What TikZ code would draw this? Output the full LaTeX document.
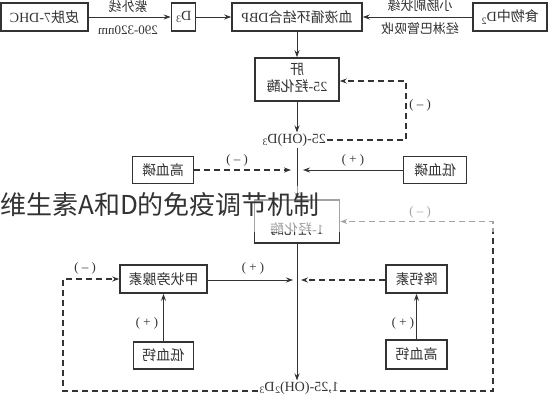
\documentclass[tikz,border=0pt]{standalone}
\usepackage{fontspec}
\usepackage{graphicx}
\setmainfont{Liberation Serif}
\newfontfamily\zh{Noto Sans CJK SC}
\usetikzlibrary{arrows.meta}
\definecolor{ink}{HTML}{333333}
\newcommand{\mr}[1]{\reflectbox{#1}}
\begin{document}
\begin{tikzpicture}[x=1pt,y=-1pt,
  box/.style={draw=ink, line width=1.6pt, minimum width=#1pt, minimum height=28pt, inner sep=0pt, text=ink, font=\fontsize{14}{16}\selectfont},
  box/.default=60,
  conn/.style={draw=ink, line width=1pt, -{Stealth[length=7pt,width=5pt]}},
  dsh/.style={draw=ink, line width=1.1pt, dash pattern=on 6pt off 4pt},
  lab/.style={font=\fontsize{13}{15}\selectfont, text=ink, inner sep=0pt},
  txt/.style={font=\fontsize{14}{16}\selectfont, text=ink, inner sep=1pt}]
\useasboundingbox (0,0) rectangle (550,400);
\fill[white] (0,0) rectangle (550,400);
% top row
\node[box=87] (skin) at (44.5,17) {\mr{{\zh 皮肤}7-DHC}};
\node[box=24] (d3) at (183.5,17) {\mr{D\textsubscript{3}}};
\node[box=130] (dbp) at (297,17) {\mr{{\zh 血液循环结合}DBP}};
\node[box=74] (food) at (510,17) {\mr{{\zh 食物中}D\textsubscript{2}}};
\draw[conn] (skin) -- (d3);
\node[lab] (uv) at (128,7) {\mr{\zh 紫外线}};
\node[lab] (nm) at (128,30) {\mr{290-320nm}};
\draw[conn] (d3) -- (dbp);
\draw[conn] (food) -- (dbp);
\node[lab] (gut) at (420,6) {\mr{\zh 小肠刷状缘}};
\node[lab] (lym) at (420,29) {\mr{\zh 经淋巴管吸收}};
% liver
\node[box=84, minimum height=43pt] (liver) at (297,79.5) {\mr{\begin{tabular}{@{}c@{}}{\zh 肝}\\[0pt]25-{\zh 羟化酶}\end{tabular}}};
\draw[conn] (dbp.south) -- (liver.north);
\node[txt] (oh25) at (294,140) {\mr{25-(OH)D\textsubscript{3}}};
\draw[conn] (liver.south) -- (liver.south |- oh25.north);
\coordinate (c1) at (406,81);
\draw[dsh,-{Stealth[length=7pt,width=5pt]}] (oh25.east) -| (c1) -- (c1 -| liver.east);
\node[lab] (m1) at (420,105) {\mr{( – )}};
% phosphate
\node[box=61, minimum height=27pt] (hp) at (163,170) {\mr{\zh 高血磷}};
\node[box=63, minimum height=27pt] (lp) at (435,170) {\mr{\zh 低血磷}};
\coordinate (j1l) at (291,170);
\coordinate (j1r) at (303,170);
\draw[dsh,-{Stealth[length=7pt,width=5pt]}] (hp.east) -- (j1l);
\draw[conn] (lp.west) -- (j1r);
\node[lab] (m2) at (237,160) {\mr{( – )}};
\node[lab] (p2) at (353,160) {\mr{( + )}};
% 1-hydroxylase
\node[box=85, minimum height=43pt] (hyd1) at (297,221.5) {};
\node[txt] (hyd1t) at (297,229) {\mr{1-{\zh 羟化酶}}};
\draw[conn] (hyd1.north |- oh25.south) -- (hyd1.north);
% calcium
\node[box=87] (pth) at (163.5,279) {\mr{\zh 甲状旁腺素}};
\node[box=60, minimum height=27pt] (lc) at (163.5,355.5) {\mr{\zh 低血钙}};
\node[box=61] (ct) at (416.5,279) {\mr{\zh 降钙素}};
\node[box=61, minimum height=29pt] (hc) at (416.5,354.5) {\mr{\zh 高血钙}};
\draw[conn] (lc) -- (pth);
\draw[conn] (hc) -- (ct);
\node[lab] (p3) at (147,323) {\mr{( + )}};
\node[lab] (p4) at (403,323) {\mr{( + )}};
\coordinate (j2l) at (293,280);
\coordinate (j2r) at (301,280);
\draw[conn] (pth.east |- j2l) -- (j2l);
\draw[dsh,-{Stealth[length=7pt,width=5pt]}] (ct.west |- j2r) -- (j2r);
\node[lab] (p5) at (253,268) {\mr{( + )}};
\node[txt] (oh2) at (299,388) {\mr{1,25-(OH)\textsubscript{2}D\textsubscript{3}}};
\draw[conn] (hyd1.south) -- (hyd1.south |- oh2.north);
\coordinate (bl) at (63,391);
\coordinate (br) at (493,391);
\draw[dsh,-{Stealth[length=7pt,width=5pt]}] (oh2.west |- bl) -- (bl) |- (pth.west);
\draw[dsh,-{Stealth[length=7pt,width=5pt]}] (oh2.east |- br) -- (br) |- (hyd1.east);
\node[lab] (m3) at (85,268) {\mr{( – )}};
\node[lab] (m4) at (420,212) {\mr{( – )}};
% overlay and title
\fill[white, opacity=0.55] (0,186) rectangle (550,232);
\node[anchor=west, font=\zh\fontsize{26}{30}\selectfont, text=black!80, inner sep=0pt] (title) at (0,205) {维生素A和D的免疫调节机制};
\end{tikzpicture}
\end{document}
